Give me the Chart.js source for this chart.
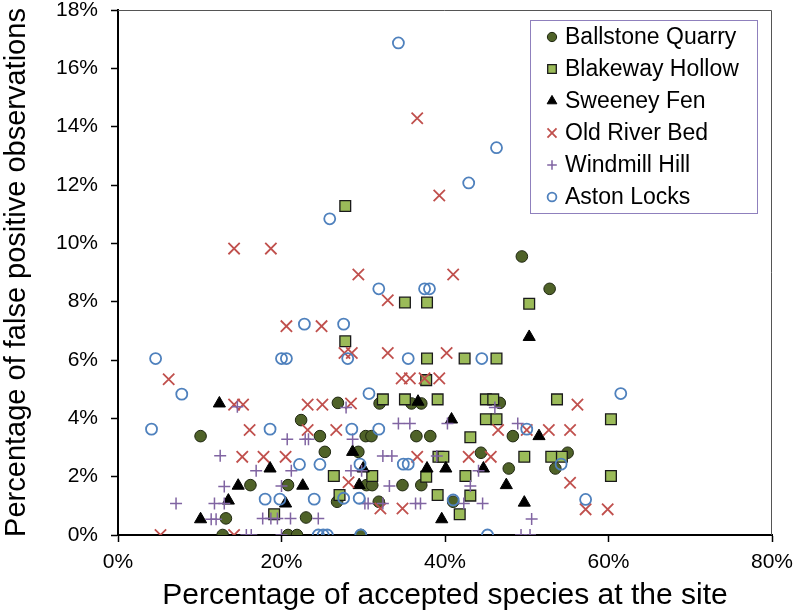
<!DOCTYPE html>
<html>
<head>
<meta charset="utf-8">
<script src="https://cdn.jsdelivr.net/npm/chart.js@4.4.1/dist/chart.umd.min.js"></script>
<style>
  html, body { margin: 0; padding: 0; background: #fff; }
  #wrap { width: 794px; height: 614px; }
</style>
</head>
<body>
<div id="wrap"><canvas id="chart" width="794" height="614"></canvas></div>
<script>
// series names, in legend order
const siteNames = ['Ballstone Quarry', 'Blakeway Hollow', 'Sweeney Fen', 'Old River Bed', 'Windmill Hill', 'Aston Locks'];

// [accepted species %, false positive %]
const ballstone = [
  [49.4, 9.55], [52.8, 8.44], [10.1, 3.39], [13.2, 0.57], [12.8, 0], [26.9, 4.53], [22.4, 3.94],
  [24.7, 3.39], [25.3, 2.85], [16.2, 1.71], [20.8, 1.71], [26.8, 1.14], [23.0, 0.6], [20.8, 0],
  [21.9, 0], [32.0, 4.51], [35.9, 4.51], [37.1, 4.51], [30.3, 3.39], [31.0, 3.39], [36.5, 3.39],
  [38.2, 3.39], [29.4, 2.85], [30.4, 1.71], [31.1, 1.71], [34.8, 1.71], [37.1, 1.71], [31.9, 1.14],
  [41.0, 1.14], [29.7, 0], [46.7, 4.53], [48.3, 3.39], [44.4, 2.82], [55.0, 2.82], [53.5, 2.28],
  [47.8, 2.28]
];
const blakeway = [
  [27.8, 11.28], [35.1, 7.97], [37.8, 7.97], [37.8, 6.05], [42.4, 6.05], [27.8, 6.64], [50.3, 7.93],
  [46.3, 6.05], [26.4, 2.02], [27.1, 1.37], [19.1, 0.71], [32.4, 4.65], [35.1, 4.65], [39.1, 4.65],
  [43.1, 3.35], [39.2, 2.68], [39.8, 2.68], [31.1, 2.02], [37.7, 2.0], [42.5, 2.02], [39.1, 1.37],
  [43.1, 1.35], [41.8, 0.71], [45.0, 4.65], [45.9, 4.65], [53.7, 4.65], [45.0, 3.97], [46.3, 3.97],
  [49.7, 2.68], [53.0, 2.68], [54.3, 2.68], [60.3, 3.97], [60.3, 2.02], [37.7, 5.31]
];
const sweeney = [
  [50.3, 6.79], [12.4, 4.51], [13.5, 1.18], [10.1, 0.54], [18.6, 2.28], [14.7, 1.69], [22.6, 1.69],
  [20.5, 1.08], [36.7, 4.57], [40.8, 3.96], [28.7, 2.85], [37.8, 2.28], [40.1, 2.28], [30.0, 2.28],
  [29.5, 1.71], [39.6, 0.54], [51.5, 3.39], [44.7, 2.28], [47.5, 1.71], [49.7, 1.11]
];
const oldRiver = [
  [36.6, 14.29], [39.3, 11.64], [14.2, 9.82], [18.7, 9.82], [20.6, 7.16], [29.4, 8.93], [41.0, 8.93],
  [33.0, 8.05], [24.9, 7.16], [27.7, 6.24], [28.6, 6.24], [33.0, 6.24], [40.2, 6.24], [6.2, 5.34],
  [5.2, 0], [14.2, 4.47], [15.3, 4.47], [23.2, 4.47], [25.0, 4.47], [16.1, 3.6], [23.2, 3.6],
  [26.7, 3.6], [15.2, 2.68], [17.8, 2.68], [20.5, 2.68], [28.2, 1.81], [14.2, 0], [34.7, 5.37],
  [35.7, 5.37], [37.5, 5.37], [39.3, 5.37], [28.5, 4.51], [36.6, 2.68], [42.9, 2.68], [32.1, 0.91],
  [34.8, 0.91], [56.2, 4.47], [46.5, 3.6], [50.0, 3.6], [52.7, 3.6], [55.3, 3.6], [45.6, 2.68],
  [55.3, 1.79], [57.2, 0.88], [59.9, 0.88]
];
const windmill = [
  [12.5, 2.72], [13.0, 1.66], [7.1, 1.08], [11.8, 1.08], [13.0, 1.08], [11.4, 0.54], [12.0, 0.54],
  [14.6, 4.4], [27.9, 4.37], [20.7, 3.28], [22.9, 3.28], [23.3, 3.28], [16.9, 2.2], [21.2, 2.2],
  [20.0, 1.68], [17.7, 0.57], [18.7, 0.57], [19.5, 0.57], [21.1, 0.57], [24.5, 0.57], [15.7, 0],
  [16.3, 0], [20.0, 0], [40.3, 3.82], [34.3, 3.82], [35.7, 3.82], [28.7, 3.28], [32.4, 2.71],
  [33.5, 2.71], [39.0, 2.71], [28.5, 2.2], [29.8, 2.2], [33.2, 1.68], [43.1, 1.68], [30.2, 1.08],
  [30.6, 1.08], [32.4, 1.08], [36.4, 1.08], [37.0, 1.08], [42.3, 1.08], [46.1, 4.37], [48.9, 3.82],
  [44.1, 2.2], [44.6, 1.08], [50.6, 0.55], [49.3, 0], [50.4, 0]
];
const aston = [
  [34.3, 16.87], [46.3, 13.28], [42.9, 12.07], [4.6, 6.05], [20.0, 6.05], [20.6, 6.05], [25.9, 10.84],
  [31.9, 8.44], [37.5, 8.44], [38.1, 8.44], [22.8, 7.23], [27.6, 7.23], [28.1, 6.05], [35.5, 6.05],
  [44.5, 6.05], [7.8, 4.83], [4.1, 3.63], [18.6, 3.63], [28.6, 3.63], [22.2, 2.42], [24.7, 2.42],
  [27.6, 1.26], [18.0, 1.23], [19.8, 1.23], [24.0, 1.23], [24.5, 0], [25.1, 0], [25.6, 0],
  [30.7, 4.85], [31.9, 3.63], [29.6, 2.43], [34.9, 2.43], [35.5, 2.43], [29.5, 1.26], [41.0, 1.2],
  [29.7, 0], [50.0, 3.63], [54.2, 2.43], [45.2, 0], [57.2, 1.22], [61.5, 4.85]
];

// axis ranges and ticks
const xMax = 80, xStep = 20;
const yMax = 18, yStep = 2;

const FONT = '"Liberation Sans", Arial, sans-serif';

function pts(arr) { return arr.map(p => ({ x: p[0], y: p[1] })); }

// plot area frame (top and right edges)
const plotFrame = {
  id: 'plotFrame',
  beforeDatasetsDraw(chart) {
    const a = chart.chartArea, ctx = chart.ctx;
    ctx.save();
    ctx.strokeStyle = '#555';
    ctx.lineWidth = 1;
    ctx.beginPath();
    ctx.moveTo(a.left, a.top + 0.5);
    ctx.lineTo(a.right - 0.5, a.top + 0.5);
    ctx.lineTo(a.right - 0.5, a.bottom);
    ctx.stroke();
    ctx.restore();
  }
};

// boxed legend inside the plot
const boxLegend = {
  id: 'boxLegend',
  afterDraw(chart) {
    const ctx = chart.ctx;
    const left = 530, top = 20, w = 227, h = 193;
    ctx.save();
    ctx.fillStyle = '#fff';
    ctx.fillRect(left, top, w, h);
    ctx.strokeStyle = '#8f80bd';
    ctx.lineWidth = 1;
    ctx.strokeRect(left + 0.5, top + 0.5, w, h);
    ctx.font = '23px ' + FONT;
    ctx.textBaseline = 'middle';
    chart.data.datasets.forEach((ds, i) => {
      const cy = top + 17 + i * 32;
      ctx.fillStyle = ds.backgroundColor;
      ctx.strokeStyle = ds.borderColor;
      ctx.lineWidth = ds.pointBorderWidth;
      Chart.helpers.drawPoint(ctx, {
        pointStyle: ds.pointStyle, rotation: 0,
        radius: ds.pointRadius * 0.8, borderWidth: ds.pointBorderWidth
      }, 552, cy);
      ctx.fillStyle = '#000';
      ctx.fillText(ds.label, 565, cy + 1);
    });
    ctx.restore();
  }
};

const datasets = [
  { label: siteNames[0], data: pts(ballstone), pointStyle: 'circle', pointRadius: 5.8,
    backgroundColor: '#4f6228', borderColor: '#1e2610', pointBorderWidth: 1, order: 6 },
  { label: siteNames[1], data: pts(blakeway), pointStyle: 'rect', pointRadius: 7.6,
    backgroundColor: '#9bbb59', borderColor: '#1a1a1a', pointBorderWidth: 1.3, order: 5 },
  { label: siteNames[2], data: pts(sweeney), pointStyle: 'triangle', pointRadius: 7,
    backgroundColor: '#000', borderColor: '#000', pointBorderWidth: 1, order: 4 },
  { label: siteNames[3], data: pts(oldRiver), pointStyle: 'crossRot', pointRadius: 8,
    backgroundColor: '#c0504d', borderColor: '#c0504d', pointBorderWidth: 1.8, order: 3 },
  { label: siteNames[4], data: pts(windmill), pointStyle: 'cross', pointRadius: 6,
    backgroundColor: '#8064a2', borderColor: '#8064a2', pointBorderWidth: 1.5, order: 2 },
  { label: siteNames[5], data: pts(aston), pointStyle: 'circle', pointRadius: 5.5,
    backgroundColor: 'rgba(0,0,0,0)', borderColor: '#4f81bd', pointBorderWidth: 1.8, order: 1 }
];

new Chart(document.getElementById('chart'), {
  type: 'scatter',
  data: { datasets: datasets },
  options: {
    responsive: false,
    animation: false,
    layout: { padding: { top: 10, right: 22, bottom: 0, left: 0 } },
    plugins: { legend: { display: false }, tooltip: { enabled: false } },
    scales: {
      x: {
        type: 'linear', min: 0, max: xMax,
        ticks: { stepSize: xStep, callback: v => v + '%', color: '#000', padding: 8, maxRotation: 0,
                 font: { family: FONT, size: 21 } },
        grid: { drawOnChartArea: false, tickLength: 7, tickColor: '#000', tickWidth: 1.5 },
        border: { display: true, color: '#000', width: 2 },
        title: { display: true, text: 'Percentage of accepted species at the site', color: '#000',
                 font: { family: FONT, size: 30 }, padding: { top: 0, bottom: 0 } },
        afterFit(s) { s.height = 79; s.paddingLeft = 0; s.paddingRight = 0; }
      },
      y: {
        type: 'linear', min: 0, max: yMax,
        ticks: { stepSize: yStep, callback: v => v + '%', color: '#000', padding: 13,
                 font: { family: FONT, size: 21 } },
        grid: { drawOnChartArea: false, tickLength: 7, tickColor: '#000', tickWidth: 1.5 },
        border: { display: true, color: '#000', width: 2 },
        title: { display: true, text: 'Percentage of false positive observations', color: '#000',
                 font: { family: FONT, size: 29 }, padding: { top: 0, bottom: 0 } },
        afterFit(s) { s.width = 118; s.paddingTop = 0; s.paddingBottom = 0; }
      }
    }
  },
  plugins: [plotFrame, boxLegend]
});
</script>
</body>
</html>
